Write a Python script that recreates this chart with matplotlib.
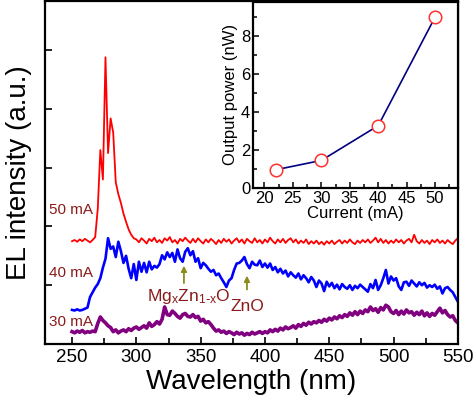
import matplotlib
matplotlib.use("Agg")
import matplotlib.pyplot as plt
import numpy as np
from matplotlib.ticker import MultipleLocator, NullFormatter

plt.rcParams['font.family'] = ['Liberation Sans', 'DejaVu Sans']
plt.rcParams['mathtext.default'] = 'regular'

# wavelength grid (nm), 2 nm steps
wl = np.arange(250, 551, 2)

# 50 mA spectrum (red)
el_50 = [1.75, 1.77, 1.74, 1.78, 1.75, 1.79, 1.76, 1.73, 1.77, 1.82,
         2.3, 3.3, 2.8, 4.88, 3.25, 3.84, 3.6, 2.75, 2.55, 2.4, 2.22, 2.08, 1.95, 1.86, 1.80,
         1.78, 1.73, 1.80, 1.76, 1.71, 1.79, 1.75, 1.81, 1.73, 1.77,
         1.72, 1.80, 1.76, 1.82, 1.73, 1.77, 1.71, 1.79, 1.75, 1.81,
         1.76, 1.72, 1.79, 1.73, 1.80, 1.75, 1.71, 1.78, 1.73, 1.79,
         1.75, 1.70, 1.77, 1.72, 1.79, 1.74, 1.78, 1.71, 1.76, 1.80,
         1.73, 1.78, 1.71, 1.79, 1.75, 1.72, 1.80, 1.73, 1.77, 1.71,
         1.78, 1.73, 1.81, 1.75, 1.71, 1.78, 1.73, 1.79, 1.72, 1.77,
         1.80, 1.73, 1.78, 1.71, 1.76, 1.72, 1.78, 1.70, 1.75, 1.71,
         1.76, 1.70, 1.74, 1.69, 1.75, 1.71, 1.76, 1.70, 1.74, 1.77,
         1.71, 1.76, 1.72, 1.78, 1.73, 1.70, 1.76, 1.72, 1.77, 1.73,
         1.78, 1.72, 1.76, 1.81, 1.73, 1.79, 1.72, 1.77, 1.71, 1.76,
         1.72, 1.78, 1.73, 1.77, 1.71, 1.76, 1.79, 1.73, 1.86, 1.75,
         1.71, 1.77, 1.72, 1.76, 1.70, 1.77, 1.73, 1.78, 1.72, 1.76,
         1.71, 1.77, 1.73, 1.70, 1.76, 1.80]

# 40 mA spectrum (blue)
el_40 = [0.58, 0.57, 0.59, 0.57, 0.58, 0.60, 0.62, 0.80, 0.88, 0.96,
         1.02, 1.12, 1.30, 1.45, 1.80, 1.62, 1.66, 1.48, 1.74, 1.58, 1.38, 1.50, 1.28, 1.12, 1.36,
         1.09, 1.40, 1.23, 1.38, 1.22, 1.40, 1.27, 1.33, 1.30, 1.36,
         1.51, 1.44, 1.56, 1.48, 1.55, 1.40, 1.61, 1.46, 1.40, 1.57,
         1.63, 1.51, 1.58, 1.40, 1.46, 1.29, 1.38, 1.34, 1.28, 1.23,
         1.26, 1.17, 1.20, 1.12, 1.05, 0.97, 1.08, 1.12, 1.26, 1.37,
         1.38, 1.42, 1.48, 1.36, 1.29, 1.40, 1.35, 1.34, 1.42, 1.31,
         1.37, 1.30, 1.37, 1.26, 1.31, 1.22, 1.28, 1.20, 1.25, 1.15,
         1.22, 1.17, 1.13, 1.20, 1.10, 1.17, 1.12, 1.05, 1.14, 1.08,
         0.97, 1.08, 1.03, 0.90, 1.06, 0.98, 1.04, 0.95, 1.01, 0.93,
         1.02, 0.97, 0.94, 1.00, 0.92, 0.99, 0.95, 1.01, 0.97, 0.93,
         0.89, 1.02, 0.95, 1.09, 0.92, 1.00, 1.12, 1.26, 1.03, 1.15,
         1.08, 1.12, 0.98, 0.92, 1.05, 1.06, 0.99, 1.08, 1.03, 0.98,
         1.05, 1.00, 1.04, 0.96, 1.00, 0.97, 1.01, 0.94, 0.98, 0.86,
         0.95, 0.97, 0.92, 0.88, 0.80, 0.72]

# 30 mA spectrum (purple)
el_30 = [0.21, 0.19, 0.22, 0.20, 0.23, 0.19, 0.21, 0.20, 0.22, 0.21,
         0.35, 0.46, 0.40, 0.36, 0.31, 0.28, 0.21, 0.24, 0.19, 0.22, 0.24, 0.21, 0.26, 0.23, 0.27,
         0.29, 0.25, 0.28, 0.31, 0.27, 0.36, 0.30, 0.33, 0.38, 0.34,
         0.42, 0.63, 0.50, 0.49, 0.56, 0.52, 0.47, 0.44, 0.50, 0.52,
         0.47, 0.46, 0.50, 0.45, 0.47, 0.39, 0.42, 0.36, 0.38, 0.33,
         0.27, 0.22, 0.24, 0.20, 0.22, 0.18, 0.21, 0.19, 0.16, 0.20,
         0.17, 0.19, 0.15, 0.18, 0.16, 0.20, 0.17, 0.19, 0.21, 0.18,
         0.21, 0.19, 0.24, 0.21, 0.25, 0.22, 0.27, 0.24, 0.29, 0.26,
         0.28, 0.31, 0.27, 0.33, 0.30, 0.35, 0.32, 0.37, 0.34, 0.38,
         0.36, 0.40, 0.37, 0.42, 0.39, 0.44, 0.41, 0.46, 0.43, 0.48,
         0.45, 0.50, 0.47, 0.53, 0.49, 0.55, 0.50, 0.56, 0.52, 0.58,
         0.55, 0.63, 0.57, 0.60, 0.54, 0.62, 0.58, 0.66, 0.63, 0.55,
         0.52, 0.57, 0.50, 0.56, 0.51, 0.58, 0.53, 0.55, 0.49, 0.54,
         0.50, 0.56, 0.48, 0.53, 0.47, 0.52, 0.49, 0.55, 0.61, 0.53,
         0.57, 0.50, 0.46, 0.48, 0.40, 0.36]

# inset: output power vs current
current = [22, 30, 40, 50]
power = [0.96, 1.45, 3.28, 8.99]

curve_labels = ["50 mA", "40 mA", "30 mA"]
label_y = [2.28, 1.21, 0.38]

text_col = "#8b1a1a"
arrow_col = "#8c8c1e"

fig = plt.figure(figsize=(4.74, 4.03), dpi=100)
ax = fig.add_axes([0.095, 0.1464, 0.871, 0.85])

ax.plot(wl, el_50, color="red", lw=1.3)
ax.plot(wl, el_40, color="blue", lw=1.9)
ax.plot(wl, el_30, color="#800080", lw=2.6)

for txt, yy in zip(curve_labels, label_y):
    ax.text(232, yy, txt, color=text_col, fontsize=11, va="center", ha="left")

ax.text(308, 0.80, r"$Mg_xZn_{1\text{-}x}O$", color=text_col, fontsize=12.5,
        va="center", ha="left")
ax.text(373, 0.64, "ZnO", color=text_col, fontsize=12.5, va="center", ha="left")
ax.annotate("", xy=(337, 1.38), xytext=(337, 0.99),
            arrowprops=dict(arrowstyle="-|>", color=arrow_col, lw=1.3, mutation_scale=8))
ax.annotate("", xy=(386, 1.21), xytext=(386, 0.88),
            arrowprops=dict(arrowstyle="-|>", color=arrow_col, lw=1.3, mutation_scale=8))

ax.set_xlim(229, 550)
ax.set_ylim(0, 5.83)
ax.xaxis.set_major_locator(MultipleLocator(50))
ax.xaxis.set_minor_locator(MultipleLocator(25))
ax.set_yticks([1, 2, 3, 4, 5])
ax.yaxis.set_major_formatter(NullFormatter())
ax.tick_params(direction="in", which="both", labelsize=13.5, width=1.2)
ax.tick_params(which="major", length=5)
ax.tick_params(which="minor", length=4)
for sp in ax.spines.values():
    sp.set_linewidth(1.6)
ax.set_xlabel("Wavelength (nm)", fontsize=20, labelpad=2)
ax.set_ylabel("EL intensity (a.u.)", fontsize=20, labelpad=6)

# inset
ins = fig.add_axes([0.534, 0.5335, 0.432, 0.4625])
ins.plot(current, power, color="#000080", lw=1.2, marker="o", ms=9,
         mfc="white", mec="#ff3030", mew=1.1)
ins.set_xlim(18, 54)
ins.set_ylim(0, 9.8)
ins.xaxis.set_major_locator(MultipleLocator(5))
ins.xaxis.set_minor_locator(MultipleLocator(2.5))
ins.yaxis.set_major_locator(MultipleLocator(2))
ins.yaxis.set_minor_locator(MultipleLocator(1))
ins.tick_params(direction="in", which="both", labelsize=12, width=1.1, pad=2)
ins.tick_params(which="major", length=4)
ins.tick_params(which="minor", length=3)
for sp in ins.spines.values():
    sp.set_linewidth(1.6)
ins.set_xlabel("Current (mA)", fontsize=12, labelpad=0)
ins.set_ylabel("Output power (nW)", fontsize=12, labelpad=2)

fig.savefig("out.png", dpi=100)
